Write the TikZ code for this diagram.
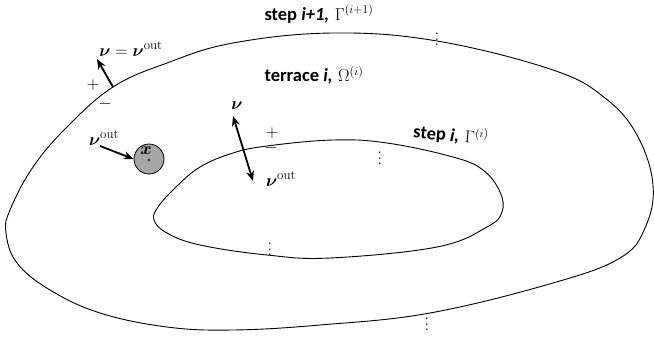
\documentclass[tikz,border=0pt]{standalone}
\usepackage{amsmath,amssymb}
\usepackage{fontspec}
\newfontfamily\carl{Carlito}
\usetikzlibrary{arrows.meta}
\tikzset{
  curve/.style={line width=0.9pt},
  arr/.style={line width=1.8pt,-{Stealth[length=10pt,width=8pt]}},
  darr/.style={line width=1.8pt,{Stealth[length=10pt,width=8pt]}-{Stealth[length=10pt,width=8pt]}},
  lbl/.style={inner sep=0pt,font=\fontsize{18.5}{20}\selectfont},
  dots/.style={inner sep=0pt,scale=1.45,font=\boldmath}
}
\begin{document}
\begin{tikzpicture}[x=1pt,y=-1pt]
\useasboundingbox (0,0) rectangle (654,340);
% outer step
\draw[curve] plot[smooth cycle, tension=0.65] coordinates {
 (333,33) (437,41) (553,70) (605,98) (637,135) (653,185) (645,228) (620,258)
 (553,283) (430,313) (320,325) (233,330) (167,327) (100,313) (50,290) (17,263)
 (6,233) (10,210) (33,167) (67,127) (113,87) (167,63) (233,43)};
% inner step
\draw[curve] plot[smooth cycle, tension=0.65] coordinates {
 (333,140) (387,143) (453,157) (483,170) (500,192) (502,212) (487,227) (437,247)
 (330,258) (267,255) (200,245) (167,233) (154,220) (158,207) (175,188) (200,167)
 (233,153) (267,146)};
% labels
\node[lbl] (tstep1) at (319,14) {{\carl\bfseries step \itshape i+1,} $\Gamma^{(i+1)}$};
\node[lbl] (tterr) at (314,75) {{\carl\bfseries terrace \itshape i,} $\Omega^{(i)}$};
\node[lbl,rotate=-5] (tstep) at (451,135) {{\carl\bfseries step \itshape i,} $\Gamma^{(i)}$};
% dots
\node[dots] (d1) at (437,35) {$\vdots$};
\node[dots] (d2) at (380,154) {$\vdots$};
\node[dots] (d3) at (270,245) {$\vdots$};
\node[dots] (d4) at (427,320) {$\vdots$};
% outer normal
\coordinate (ob) at (113,87);
\coordinate (ot) at (97,59);
\draw[arr] (ob) -- (ot);
\node[lbl] (nueq) at (131,49) {$\boldsymbol{\nu}=\boldsymbol{\nu}^{\mathrm{out}}$};
\node[lbl] (op) at (93,85) {$+$};
\node[lbl] (om) at (105,104) {$-$};
% island
\node[circle,draw,line width=0.8pt,fill=gray!70,minimum size=30pt,inner sep=0pt] (isl) at (149,159) {};
\node[lbl] (xl) at (146,151) {$\boldsymbol{x}$};
\fill (149,160) circle (1.2pt);
\node[lbl] (nuo1) at (104,138) {$\boldsymbol{\nu}^{\mathrm{out}}$};
\coordinate (ia) at (100,146);
\draw[arr] (ia) -- (isl.west);
% inner normal
\coordinate (it) at (233,116);
\coordinate (ib) at (253,181);
\draw[darr] (it) -- (ib);
\node[lbl] (nu) at (237,106) {$\boldsymbol{\nu}$};
\node[lbl] (ip) at (272,133) {$+$};
\node[lbl] (im) at (271,148) {$-$};
\node[lbl] (nuo2) at (281,179) {$\boldsymbol{\nu}^{\mathrm{out}}$};
\end{tikzpicture}
\end{document}
